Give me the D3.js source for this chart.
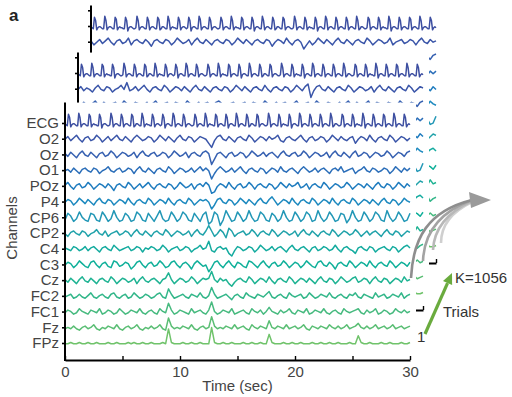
<!DOCTYPE html>
<html>
<head>
<meta charset="utf-8">
<script src="https://cdn.jsdelivr.net/npm/d3@7"></script>
<style>
  body { margin: 0; background: #fff; }
  svg { display: block; font-family: "Liberation Sans", Arial, sans-serif; }
</style>
</head>
<body>
<svg id="chart" width="512" height="397"></svg>
<script>
// channel names (top to bottom) and their trace colours
const channels = ["ECG", "O2", "Oz", "O1", "POz", "P4", "CP6", "CP2", "C4", "C3", "Cz", "FC2", "FC1", "Fz", "FPz"];
const colors = ["#3d4fa1", "#3b56a9", "#3761b1", "#2b6eb9", "#1f7cbf", "#1d89bf", "#2297b6", "#20a2aa",
                "#14ab9f", "#10b09a", "#1fb393", "#34b78a", "#47ba7f", "#5abe74", "#70c36b"];
const timeTicks = [0, 5, 10, 15, 20, 25, 30];
const timeLabels = [0, 10, 20, 30];

// ECG, 0.1 s steps
const ecg = [0,1,0,
  11,8,-1,1,2,2,1,0,0, 12,8,-1,1,2,2,1,0,0, 11,9,-1,1,2,1,1,0,0, 11,8,-2,1,2,2,1,0,0,1,
  12,8,-1,1,2,2,1,0,0, 11,8,-1,1,2,2,1,0,0, 11,9,-1,0,2,2,1,0,0, 12,8,-1,1,2,1,1,0,0,
  11,8,-1,1,2,2,1,0,1, 11,8,-2,1,2,2,1,0,0, 12,9,-1,1,2,2,1,0,0, 11,8,-1,1,2,2,1,0,0,1,
  11,8,-1,1,2,2,1,0,0, 12,8,-1,1,2,1,1,0,0, 11,9,-1,1,2,2,1,0,0, 11,8,-2,1,2,2,1,0,0,
  12,8,-1,1,2,2,1,0,0, 11,8,-1,0,2,2,1,0,0, 11,9,-1,1,2,2,1,0,0,1, 12,8,-1,1,2,2,1,0,0,
  11,8,-1,1,2,1,1,0,0, 11,8,-2,1,2,2,1,0,0, 12,9,-1,1,2,2,1,0,0, 11,8,-1,1,2,2,1,0,0,
  11,8,-1,1,2,2,1,0,0, 12,8,-1,0,2,2,1,0,0,1, 11,9,-1,1,2,2,1,0,0, 11,8,-1,1,2,1,1,0,0,
  12,8,-2,1,2,2,1,0,0, 11,8,-1,1,2,2,1,0,0, 11,9,-1,1,2,2,1,0,0, 12,8,-1,1,2,2,1,0,0,
  11,8,-1,1,2,1];

// EEG channels, 0.25 s steps
const o2 = [0,2,-1,1,3,0,-2,1,2,-1, 0,3,1,-2,0,2,-1,1,3,0, -1,2,0,-2,1,3,1,-1,0,2, 1,-2,0,3,1,-1,2,0,-2,1,
  3,0,-1,2,1,-2,0,2,1,0, -3,-6,-1,2,3,0,-1,2,0,-2, 1,2,0,-1,3,1,-2,0,2,1, -1,2,0,1,3,-1,-2,1,2,0,
  -1,1,3,0,-2,1,2,-1,0,2, 1,-2,0,3,1,-1,2,0,-1,1, 2,-3,0,2,1,-1,3,0,-2,1, 2,0,-1,3,1,-2,0,2,1,-1, 1];
const oz = [1,-1,2,0,-2,1,3,0,-1,2, 0,-2,1,2,-1,0,3,1,-2,0, 2,1,-1,0,2,-2,1,3,0,-1, 1,2,-1,0,2,1,-2,0,3,1,
  -1,0,2,-2,1,2,0,-1,2,3, 1,-7,-3,1,2,0,-2,1,2,-1, 0,2,1,-2,0,3,1,-1,0,2, -1,1,2,0,-2,1,3,0,-1,1,
  2,-1,0,3,1,-2,0,2,1,-1, 0,2,-2,1,3,0,-1,2,0,-2, 1,3,-1,0,2,1,-2,0,2,1, -1,0,3,1,-2,0,2,1,-1,2, 3];
const o1 = [0,1,-1,2,0,-2,1,2,0,-1, 2,1,-2,0,1,3,0,-1,1,2, -1,0,2,1,-2,1,3,0,-1,2, 0,-2,1,2,0,-1,3,1,-2,0,
  2,1,-1,0,2,-1,1,3,0,2, 0,-6,-2,1,3,1,-1,0,2,-1, 1,3,0,-2,1,2,0,-1,2,1, -2,0,2,1,-1,3,0,-1,1,2,
  0,-2,1,3,1,-1,0,2,-1,1, 2,0,-2,1,2,0,3,-1,0,1, 2,-2,0,1,3,0,-1,2,1,-1, 0,2,1,-2,0,3,1,-1,2,0, 2];
const poz = [1,3,0,-2,1,2,-1,0,3,1, -2,0,2,1,-1,2,0,-3,1,2, 0,-1,3,1,-2,0,2,-1,1,3, 0,-2,1,2,0,-1,2,1,-2,0,
  3,1,-1,0,2,-2,1,2,0,3, 1,-5,-4,0,2,1,-1,3,0,-2, 1,2,-1,0,3,1,-2,1,2,0, -1,2,1,-2,0,3,1,-1,2,0,
  1,3,-1,0,2,-2,1,2,0,-1, 3,1,-2,0,2,1,-1,0,3,1, -2,0,2,1,-1,2,0,-2,1,3, 0,-1,2,1,-2,0,3,1,-1,2, 0];
const p4 = [0,2,1,-2,0,3,1,-1,2,0, -2,1,3,0,-1,2,1,-2,0,2, 1,-1,3,0,-2,1,2,0,-1,3, 1,-2,0,2,1,-1,3,0,-2,1,
  2,0,-1,3,1,-2,0,2,1,2, 0,-5,-2,2,3,0,-1,2,1,-2, 0,3,1,-1,2,0,-2,1,3,0, -1,2,4,1,-2,0,2,1,-1,3,
  0,-2,1,2,0,-1,3,1,-2,0, 2,1,-1,3,0,-2,1,2,0,-1, 3,1,-2,0,2,1,-1,2,0,-2, 1,3,0,-1,2,1,-2,0,3,1, 0];
const cp6 = [-2,3,1,-3,-1,4,0,-2,-3,3, 2,-2,-3,4,1,-3,-1,5,0,-3, -2,3,1,-3,-2,4,2,-2,-3,3, 0,-3,1,5,-1,-3,-2,4,1,-3,
  -1,4,2,-2,-3,3,0,-3,2,4, -5,-3,4,2,-6,-2,5,1,-3,-2, 4,1,-3,-1,5,0,-3,-2,4,2, -2,-3,3,1,-3,-1,5,0,-3,-2,
  4,1,-3,-1,4,2,-3,-2,5,0, -3,-1,4,1,-3,-2,3,2,-4,-1, 5,0,-3,-2,4,1,-3,-1,4,2, -2,-3,5,0,-3,-1,4,1,-3,-2, 3];
const cp2 = [0,-2,1,2,0,-1,2,1,-2,0, 1,3,0,-1,2,-2,0,1,2,-1, 0,2,1,-2,1,3,0,-1,2,0, -2,1,2,0,-1,3,1,-2,0,2,
  1,-1,0,2,-2,1,3,0,-1,2, 6,2,-2,0,3,1,-3,4,2,-2, 0,1,2,-1,0,3,1,-2,1,2, 0,-1,3,1,-2,0,2,1,-1,0,
  2,-2,1,3,0,-1,2,0,-2,1, 2,0,-1,3,1,-2,0,2,1,-1, 0,3,1,-2,0,2,-1,1,2,0, -2,1,3,0,-1,2,1,-2,0,2, 1];
const c4 = [1,0,-1,2,1,-1,0,2,-1,1, 2,0,-2,1,2,0,-1,3,1,-1, 0,1,2,-1,0,2,1,-2,1,0, 2,1,-1,0,3,1,-2,0,1,2,
  -1,0,2,1,-2,0,1,3,0,1, 6,-1,-2,1,2,0,1,-3,-5,-1, 2,1,-1,0,2,1,-2,0,3,1, -1,0,2,-1,1,2,0,-2,1,3,
  0,-1,1,2,0,-2,1,2,-1,0, 2,1,-1,0,3,0,-2,1,2,0, -1,-3,1,2,0,-1,2,1,-2,0, 1,2,0,-1,2,1,-2,0,2,3, 1];
const c3 = [0,2,1,-2,0,3,1,-1,-2,2, 3,0,-2,1,2,-1,-2,3,2,-1, 0,2,1,-3,-1,2,3,0,-2,1, 2,-1,0,3,1,-2,-1,2,3,0,
  -2,1,2,0,-3,1,3,1,-1,0, -5,-2,2,3,0,-2,1,3,0,-2, 2,1,-1,-2,3,2,0,-2,1,3, 0,-2,1,2,-1,0,3,1,-2,0,
  2,1,-2,0,3,1,-1,-2,2,3, 0,-1,2,0,-3,1,2,0,-1,3, 1,-2,0,2,1,-1,3,0,-2,1, 2,0,-1,3,1,-2,0,2,1,-1, 2];
const cz = [1,-1,2,0,-2,1,3,0,-1,2, 0,-2,1,2,0,-1,3,1,-2,0, 2,1,-1,0,2,-2,1,3,0,-1, 1,2,0,-2,1,2,6,1,-2,0,
  2,1,-1,0,3,1,-2,0,2,1, 2,7,1,-1,2,0,1,-2,-4,-1, 1,2,0,-1,3,1,-2,0,2,1, -1,3,0,-2,1,2,0,-1,3,1,
  -2,0,2,1,-1,2,0,-2,1,3, 0,-1,2,1,-2,0,3,1,-1,0, 2,3,-1,0,2,1,-2,1,3,0, -1,2,1,-2,0,2,1,-1,3,0, 1];
const fc2 = [0,1,2,-1,0,2,0,-1,1,3, 0,-1,1,2,0,-1,2,3,0,-1, 1,2,-1,0,3,1,-1,0,2,1, -1,0,2,3,0,-1,6,2,-1,0,
  1,2,0,-1,2,1,0,3,0,-1, 1,7,2,-1,0,1,2,0,-2,1, 2,0,-1,3,1,0,-1,2,1,0, 2,4,0,-1,1,2,0,-1,3,1,
  0,1,2,-1,0,3,1,-1,0,2, 1,0,3,0,-1,1,2,0,-1,2, 1,3,0,-1,2,1,0,-1,3,0, 1,2,-1,0,2,1,0,3,-1,1, 2];
const fc1 = [0,2,1,-1,0,3,1,0,-1,2, 1,0,3,-1,0,2,1,-1,0,3, 1,-1,0,2,1,0,3,0,-1,1, 2,0,-1,3,1,0,7,2,-1,0,
  2,1,0,-1,3,0,1,2,0,-1, 2,8,1,-1,0,2,1,0,3,-1, 0,1,2,0,-1,3,1,0,2,-1, 1,4,1,0,-1,2,0,1,3,0,
  -1,2,1,0,3,-1,0,2,1,0, 3,0,-1,1,2,0,-1,3,1,0, 1,2,3,0,-1,2,0,1,3,-1, 0,2,1,-1,0,3,1,0,2,0, 1];
const fz = [0,1,0,2,0,-1,1,2,0,1, 3,0,-1,1,0,2,1,0,3,0, -1,1,2,0,1,3,0,-1,1,0, 2,0,1,3,0,-1,8,2,0,1,
  0,2,1,0,3,0,-1,1,2,0, 1,9,2,0,1,0,2,1,0,3, 0,1,2,0,-1,3,1,0,2,1, 0,6,1,0,2,1,0,3,0,1,
  2,0,1,3,0,-1,2,1,0,2, 1,0,3,1,0,2,0,1,3,0, 1,2,4,1,0,2,0,1,3,0, 1,2,0,1,3,0,1,2,0,1, 2];
const fpz = [0,0,1,0,0,1,0,0,1,0, 0,1,0,0,0,1,0,0,1,0, 0,0,1,0,1,0,0,1,0,0, 1,0,0,0,1,0,11,1,0,0,
  0,1,0,0,1,0,0,1,0,0, 0,12,1,0,0,1,0,0,1,0, 0,0,1,0,0,1,0,0,1,0, 0,7,1,0,0,0,1,0,0,1,
  0,0,1,0,0,0,1,0,0,1, 0,0,1,0,0,1,0,0,0,1, 0,0,6,1,0,0,1,0,0,0, 1,0,0,1,0,0,0,1,0,0, 1];

// second row of the two trials stacked behind (trial K at the back)
const trialKO2 = [1,-2,0,2,-1,1,3,0,-2,1, 2,-1,0,3,-2,1,2,0,-1,2, 0,-3,1,2,0,-1,2,1,-2,0, 3,1,-1,0,2,-2,1,3,0,-1,
  2,0,-2,1,2,0,-1,2,1,-2, 0,3,1,-1,2,0,-2,1,2,0, -1,2,1,-3,0,2,1,-1,3,0, -2,1,2,0,-5,-2,1,-2,0,3,
  1,-1,2,0,-2,1,3,0,-1,2, 0,-2,1,2,0,-1,3,1,-2,0, 2,1,-1,0,3,-2,0,1,2,-1, 0,2,1,-2,1,3,0,-1,2,0, 1];
const trialMidO2 = [0,2,-1,1,0,-2,1,3,0,-1, 2,1,-2,0,1,3,0,5,-1,0, 2,-1,1,3,0,-2,1,2,0,-1, 3,1,-2,0,2,1,-1,2,0,-2,
  1,3,0,-1,2,0,-2,1,2,0, -1,2,1,-2,0,3,1,-1,2,0, -2,1,2,0,-1,3,0,-2,1,2, 0,-1,2,1,-2,0,3,1,-1,2,
  4,-6,-1,2,3,0,-1,2,0,-2, 1,2,0,-1,3,1,-2,0,2,1, -1,0,2,-2,1,3,0,-1,2,0, -2,1,2,0,-1,3,1,-2,0,2, 1];

const mainTraces = [ecg, o2, oz, o1, poz, p4, cp6, cp2, c4, c3, cz, fc2, fc1, fz, fpz];
const trialK = [ecg, trialKO2, oz, o1, poz, p4, cp6, cp2, c4, c3, cz, fc2, fc1, fz, fpz];
const trialMid = [ecg, trialMidO2, oz, o1, poz, p4, cp6, cp2, c4, c3, cz, fc2, fc1, fz, fpz];

const svg = d3.select("#chart");
const x = d3.scaleLinear().domain([0, 30]).range([65, 410]);
const row = d3.scaleLinear().domain([0, 14]).range([123, 343]);
const ampEcg = d3.scaleLinear().domain([0, 1]).range([0, -1.05]);   // up is positive
const ampEeg = d3.scaleLinear().domain([0, 1]).range([0, -1.35]);
const panelTop = row(-1.3);
const xAxisY = row(14) + 17;

function drawPanel(dx, dy, traces, labelled) {
  const g = svg.append("g").attr("transform", `translate(${dx},${dy})`);

  // white card so the trials behind are hidden
  g.append("rect")
    .attr("x", 60).attr("y", panelTop)
    .attr("width", 356).attr("height", xAxisY + 6 - panelTop)
    .attr("fill", "#fff");

  traces.forEach((vals, i) => {
    const dt = 30 / (vals.length - 1);
    const m = d3.mean(vals);
    const amp = i === 0 ? ampEcg : ampEeg;
    const line = d3.line()
      .x((d, j) => x(j * dt))
      .y(d => row(i) + amp(d - m));
    g.append("path")
      .attr("d", line(vals))
      .attr("fill", "none")
      .attr("stroke", colors[i])
      .attr("stroke-width", 1.5)
      .attr("stroke-linejoin", "round");
  });

  // channel axis
  const gy = g.append("g")
    .attr("transform", `translate(${x(0)},0)`)
    .call(d3.axisLeft(row)
      .tickValues(labelled ? d3.range(15) : d3.range(-1, 15))
      .tickSize(3).tickPadding(3)
      .tickFormat(i => labelled ? channels[i] : ""));
  gy.select(".domain").remove();
  gy.selectAll("line").attr("stroke", "#000").attr("stroke-width", 1.6);
  gy.selectAll("text").attr("font-size", 15).attr("fill", "#444")
    .attr("font-family", "Liberation Sans, Arial, sans-serif");
  g.append("line")
    .attr("x1", x(0)).attr("x2", x(0))
    .attr("y1", panelTop).attr("y2", xAxisY + 1)
    .attr("stroke", "#000").attr("stroke-width", 2);

  // time axis
  const gx = g.append("g")
    .attr("transform", `translate(0,${xAxisY})`)
    .call(d3.axisBottom(x)
      .tickValues(timeTicks)
      .tickSizeInner(-4).tickSizeOuter(0).tickPadding(6)
      .tickFormat(d => labelled && timeLabels.includes(d) ? d : ""));
  gx.select(".domain").attr("stroke", "#000").attr("stroke-width", 1.8);
  gx.selectAll("line").attr("stroke", "#000").attr("stroke-width", 1.4);
  gx.selectAll("text").attr("font-size", 15).attr("fill", "#444")
    .attr("font-family", "Liberation Sans, Arial, sans-serif");
  return g;
}

drawPanel(26, -97, trialK, false);
drawPanel(13, -50, trialMid, false);
drawPanel(0, 0, mainTraces, true);

// axis titles
svg.append("text")
  .attr("x", x(15)).attr("y", 391)
  .attr("text-anchor", "middle").attr("font-size", 15).attr("fill", "#444")
  .text("Time (sec)");
svg.append("text")
  .attr("transform", "translate(17,228) rotate(-90)")
  .attr("text-anchor", "middle").attr("font-size", 15).attr("fill", "#444")
  .text("Channels");
svg.append("text")
  .attr("x", 9).attr("y", 21)
  .attr("font-size", 17).attr("font-weight", "bold").attr("fill", "#222")
  .text("a");

// grey arrows that sweep the trials to the right
const sweep = [
  { d: "M441,243 C441,226 451,212 472,202", c: "#cfcfcf" },
  { d: "M433,250 C434,230 446,213 472,201", c: "#b8b8b8" },
  { d: "M423,261 C424,235 437,213 472,200", c: "#a3a3a3" },
  { d: "M411,278 C413,238 428,211 472,200", c: "#8e8e8e" }
];
svg.selectAll(".sweep").data(sweep).enter().append("path")
  .attr("d", d => d.d)
  .attr("fill", "none")
  .attr("stroke", d => d.c)
  .attr("stroke-width", 2.6);
svg.append("path")
  .attr("d", "M469,192 L471,208 L491,200 Z")
  .attr("fill", "#9a9a9a");

// green trial-direction arrow
const tail = [425, 334], tip = [452, 273];
const len = Math.hypot(tip[0] - tail[0], tip[1] - tail[1]);
const ux = (tip[0] - tail[0]) / len, uy = (tip[1] - tail[1]) / len;
const bx = tip[0] - 11 * ux, by = tip[1] - 11 * uy;
svg.append("line")
  .attr("x1", tail[0]).attr("y1", tail[1])
  .attr("x2", bx).attr("y2", by)
  .attr("stroke", "#6aab3e").attr("stroke-width", 3.2);
svg.append("path")
  .attr("d", `M${tip[0]},${tip[1]} L${bx - 5 * uy},${by + 5 * ux} L${bx + 5 * uy},${by - 5 * ux} Z`)
  .attr("fill", "#6aab3e");

svg.append("text").attr("x", 455).attr("y", 283)
  .attr("font-size", 15).attr("fill", "#333").text("K=1056");
svg.append("text").attr("x", 443).attr("y", 317)
  .attr("font-size", 15).attr("fill", "#333").text("Trials");
svg.append("text").attr("x", 417).attr("y", 342)
  .attr("font-size", 15).attr("fill", "#333").text("1");
</script>
</body>
</html>
